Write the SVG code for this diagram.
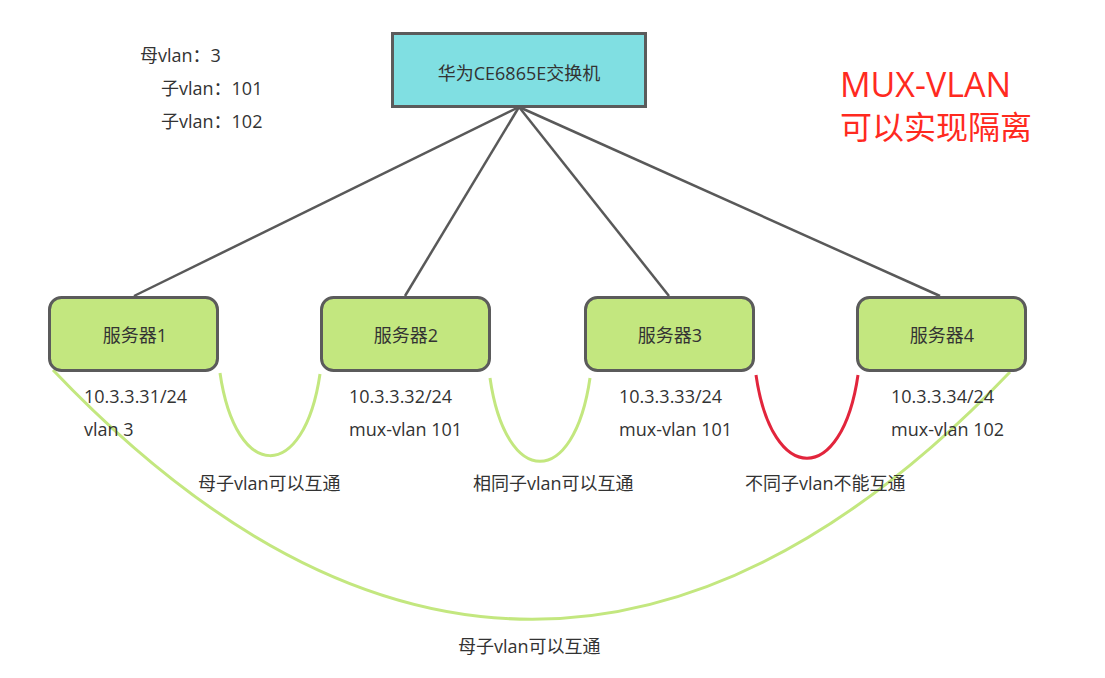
<svg xmlns="http://www.w3.org/2000/svg" width="1105" height="678" viewBox="0 0 1105 678">
<style>
text{font-family:"Open Sans","Noto Sans CJK SC",sans-serif;font-size:18px;fill:#333}
.c{text-anchor:middle}
.red{fill:#FF2A1F;font-size:32px}
.big{font-size:34px}
.link{stroke:#595959;stroke-width:2.5;fill:none}
.ok{stroke:#C3E77F;stroke-width:3;fill:none}
.no{stroke:#E2253C;stroke-width:3;fill:none}
.srv{fill:#C3E77F;stroke:#5B5B5B;stroke-width:3}
</style>
<rect width="1105" height="678" fill="#fff"/>
<g id="connectors">
<line class="link" x1="519" y1="107" x2="134" y2="296"/>
<line class="link" x1="519" y1="107" x2="405" y2="296"/>
<line class="link" x1="519" y1="107" x2="669" y2="296"/>
<line class="link" x1="519" y1="107" x2="940" y2="296"/>
<path class="ok" d="M220,373 C236,483 304,483 320,374"/>
<path class="ok" d="M490,378 C506,489 574,489 590,378"/>
<path class="no" d="M756,375 C772,486 842,486 858,375"/>
<path class="ok" d="M53,370 C369,702 694,702 1010,372"/>
</g>
<g id="legend">
<text x="140" y="62">母vlan：3</text>
<text x="161" y="95">子vlan：101</text>
<text x="161" y="128">子vlan：102</text>
</g>
<g id="title">
<text class="red big" x="840" y="97">MUX-VLAN</text>
<text class="red" x="840" y="139">可以实现隔离</text>
</g>
<g id="switch">
<rect x="392.5" y="33.5" width="253" height="73" fill="#80DFE2" stroke="#5B5B5B" stroke-width="3"/>
<text class="c" x="519" y="80">华为CE6865E交换机</text>
</g>
<g id="server1">
<rect class="srv" x="49.5" y="297.5" width="168" height="73" rx="12"/>
<text class="c" x="135" y="342">服务器1</text>
<text x="84" y="403">10.3.3.31/24</text>
<text x="84" y="436">vlan 3</text>
</g>
<g id="server2">
<rect class="srv" x="321.5" y="297.5" width="168" height="73" rx="12"/>
<text class="c" x="406" y="342">服务器2</text>
<text x="349" y="403">10.3.3.32/24</text>
<text x="349" y="436">mux-vlan 101</text>
</g>
<g id="server3">
<rect class="srv" x="585.5" y="297.5" width="168" height="73" rx="12"/>
<text class="c" x="670" y="342">服务器3</text>
<text x="619" y="403">10.3.3.33/24</text>
<text x="619" y="436">mux-vlan 101</text>
</g>
<g id="server4">
<rect class="srv" x="857.5" y="297.5" width="168" height="73" rx="12"/>
<text class="c" x="942" y="342">服务器4</text>
<text x="891" y="403">10.3.3.34/24</text>
<text x="891" y="436">mux-vlan 102</text>
</g>
<g id="labels">
<text x="198" y="490">母子vlan可以互通</text>
<text x="473" y="490">相同子vlan可以互通</text>
<text x="745" y="490">不同子vlan不能互通</text>
<text x="458" y="653">母子vlan可以互通</text>
</g>
</svg>
